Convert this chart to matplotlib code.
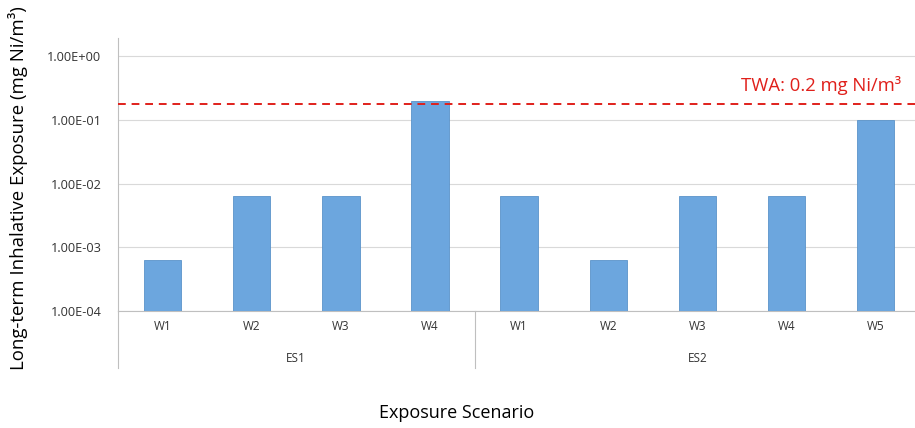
import matplotlib
matplotlib.use("Agg")
import matplotlib.pyplot as plt
from matplotlib.transforms import blended_transform_factory
import numpy as np

plt.rcParams['font.family'] = ['Open Sans', 'DejaVu Sans']

groups = ["ES1", "ES2"]
group_sizes = [4, 5]
categories = ["W1", "W2", "W3", "W4", "W1", "W2", "W3", "W4", "W5"]
values = [6.3e-4, 6.3e-3, 6.3e-3, 0.2, 6.3e-3, 6.3e-4, 6.3e-3, 6.3e-3, 0.1]
twa_level = 0.175
twa_label = "TWA: 0.2 mg Ni/m³"
yticks = [1e-4, 1e-3, 1e-2, 1e-1, 1e0]
ytick_labels = ["1.00E-04", "1.00E-03", "1.00E-02", "1.00E-01", "1.00E+00"]

W, H = 915, 428
fig = plt.figure(figsize=(W / 100, H / 100), dpi=100)
left, right, top, bottom = 118, 915, 38, 311
ax = fig.add_axes([left / W, 1 - bottom / H, (right - left) / W, (bottom - top) / H])

x = np.arange(len(categories))
ax.bar(x, values, width=0.42, color="#6CA6DE", edgecolor="#5B93C9", linewidth=0.6, zorder=3)
ax.set_yscale("log")
ax.set_ylim(1e-4, 1.93)
ax.set_xlim(-0.5, 8.44)
ax.set_yticks(yticks)
ax.set_yticklabels(ytick_labels, fontsize=9.2, color="#333333")
ax.minorticks_off()
ax.yaxis.set_tick_params(length=0, pad=12)
ax.set_xticks([])
ax.grid(axis="y", color="#D9D9D9", linewidth=0.8, zorder=0)
for s in ["top", "right"]:
    ax.spines[s].set_visible(False)
ax.spines["left"].set_color("#BFBFBF")
ax.spines["bottom"].set_color("#BFBFBF")

# TWA line
ax.axhline(twa_level, color="#E0201B", linestyle=(0, (4, 3)), linewidth=1.4, zorder=4)
ax.text(0.982, 1 - (85 - top) / (bottom - top), twa_label, transform=ax.transAxes,
        ha="right", va="center", color="#E0201B", fontsize=13.3)

# category labels
trans = blended_transform_factory(ax.transData, ax.transAxes)
dy = (bottom - top)
for xi, c in zip(x, categories):
    ax.text(xi, -(327 - bottom) / dy, c, transform=trans, ha="center", va="center",
            fontsize=8.5, color="#333333")
# group labels and separators
start = 0
bounds = [-0.5]
for g, n in zip(groups, group_sizes):
    center = start + (n - 1) / 2
    ax.text(center, -(358 - bottom) / dy, g, transform=trans, ha="center", va="center",
            fontsize=8.5, color="#333333")
    start += n
    bounds.append(start - 0.5)
for b in bounds:
    ax.plot([b, b], [0, -(368 - bottom) / dy], transform=trans, color="#BFBFBF",
            linewidth=0.8, clip_on=False)

fig.text(18 / W, 1 - 188 / H, "Long-term Inhalative Exposure (mg Ni/m³)", rotation=90,
         ha="center", va="center", fontsize=13.4)
fig.text(457 / W, 1 - 413 / H, "Exposure Scenario", ha="center",
         va="center", fontsize=13)

fig.savefig("out.png", dpi=100)
